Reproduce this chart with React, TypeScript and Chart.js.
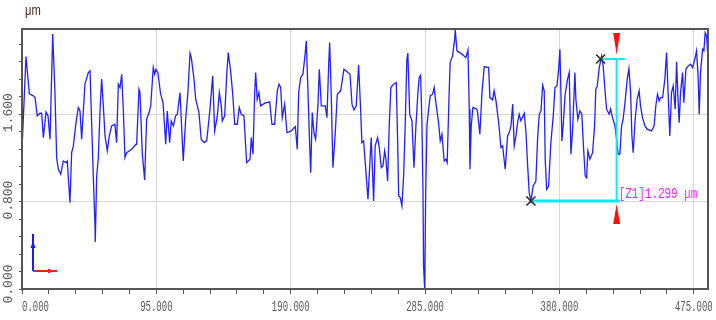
import React, { useEffect, useRef } from "react";
import { Chart, registerables } from "chart.js";

Chart.register(...registerables);

// Surface profile: [position (μm), height (μm)]
const profile: [number, number][] = [
  [0, 1.273], [2.8, 2.128], [5.2, 1.786], [8.0, 1.768], [9.2, 1.752], [10.8, 1.585], [12.7, 1.609], [13.9, 1.609],
  [15.1, 1.386], [17.0, 1.621], [18.4, 1.585], [19.8, 1.371], [21.7, 2.333], [23.3, 1.798], [24.5, 1.203], [25.7, 1.096],
  [27.4, 1.051], [29.2, 1.172], [31.1, 1.157], [32.0, 1.172], [33.9, 0.79], [35.1, 1.248], [36.3, 1.31], [38.2, 1.523],
  [39.8, 1.661], [41.0, 1.63], [42.2, 1.371], [43.3, 1.615], [44.5, 1.875], [46.9, 1.981], [48.1, 1.997], [49.3, 1.493],
  [50.4, 1.035], [51.6, 0.577], [51.8, 0.43], [52.8, 1.035], [53.9, 1.188], [55.1, 1.615], [56.3, 1.921], [57.5, 1.676],
  [58.7, 1.401], [60.3, 1.264], [61.7, 1.401], [63.4, 1.493], [65.7, 1.508], [66.9, 1.34], [68.1, 1.875], [69.3, 1.844],
  [70.5, 1.966], [71.6, 1.646], [72.8, 1.203], [74.0, 1.248], [77.5, 1.28], [80.6, 1.325], [81.1, 1.34], [82.7, 1.829],
  [83.4, 1.798], [85.0, 1.248], [86.7, 0.998], [88.1, 1.554], [89.8, 1.615], [91.0, 1.676], [92.8, 2.027], [93.8, 1.966],
  [94.7, 2.012], [96.1, 1.981], [98.0, 1.783], [99.7, 1.706], [101.6, 1.325], [102.7, 1.63], [104.4, 1.34], [105.5, 1.539],
  [107.0, 1.493], [108.6, 1.585], [109.8, 1.6], [111.7, 1.798], [114.0, 1.172], [115.7, 1.554], [117.3, 1.798], [118.8, 2.159],
  [119.7, 2.118], [121.6, 1.921], [122.8, 1.737], [125.1, 1.615], [126.7, 1.371], [128.7, 1.34], [130.6, 1.356], [132.9, 1.646],
  [134.8, 1.951], [136.2, 1.447], [138.1, 1.585], [139.5, 1.798], [140.9, 1.676], [141.6, 1.539], [143.3, 1.585], [144.7, 1.951],
  [145.8, 2.164], [147.5, 1.997], [148.9, 1.798], [150.4, 1.508], [152.2, 1.508], [153.6, 1.661], [155.0, 1.6], [156.9, 1.585],
  [158.8, 1.157], [161.2, 1.188], [162.1, 1.386], [163.3, 1.234], [164.5, 1.798], [165.2, 1.981], [166.3, 1.737], [167.5, 1.798],
  [168.7, 1.676], [171.6, 1.701], [175.1, 1.713], [176.7, 1.508], [178.6, 1.508], [180.5, 1.814], [181.7, 1.875], [182.9, 1.844],
  [184.0, 1.569], [185.7, 1.692], [187.3, 1.432], [190.4, 1.447], [193.2, 1.487], [194.6, 1.28], [195.6, 1.798], [197.0, 1.935],
  [198.6, 1.966], [199.8, 2.104], [201.0, 2.271], [202.2, 1.798], [203.4, 1.31], [204.1, 1.065], [205.2, 1.615], [206.4, 1.432],
  [207.6, 1.371], [209.2, 1.676], [210.2, 2.012], [211.6, 1.676], [214.4, 1.676], [215.6, 1.569], [216.8, 2.042], [217.5, 2.256],
  [218.6, 1.798], [219.8, 1.111], [221.5, 1.432], [222.9, 1.783], [225.3, 1.814], [227.6, 2.012], [230.4, 1.981], [231.9, 1.966],
  [233.3, 1.692], [234.7, 1.64], [236.3, 1.676], [238.0, 2.049], [239.4, 1.646], [240.3, 1.34], [241.5, 1.356], [243.2, 1.065],
  [244.6, 0.822], [246.9, 1.386], [248.6, 0.806], [249.7, 1.31], [251.4, 1.386], [252.6, 1.294], [254.0, 1.111], [255.2, 1.127],
  [256.4, 1.264], [257.3, 1.188], [258.5, 0.989], [259.6, 1.493], [260.8, 1.844], [262.7, 1.875], [264.6, 1.89], [265.6, 1.34],
  [266.3, 0.852], [267.4, 0.836], [268.6, 0.76], [269.8, 1.035], [270.9, 1.493], [272.1, 2.104], [272.8, 2.159], [274.1, 1.6],
  [275.7, 1.539], [277.1, 1.111], [278.5, 1.493], [279.9, 1.798], [280.8, 1.935], [281.8, 1.957], [282.7, 1.554], [283.5, 0.882],
  [283.9, 0.211], [284.7, 0.0], [285.4, 0.882], [286.3, 1.493], [287.5, 1.646], [288.6, 1.768], [290.3, 1.783], [291.4, 1.844],
  [292.6, 1.706], [294.5, 1.523], [295.7, 1.356], [296.9, 1.417], [298.5, 1.172], [299.7, 1.188], [300.6, 1.157], [302.0, 1.798],
  [302.7, 2.073], [304.4, 2.134], [305.9, 2.287], [306.3, 2.372], [307.5, 2.18], [311.0, 2.15], [313.8, 2.118], [315.3, 2.189],
  [316.2, 1.646], [316.7, 1.096], [317.6, 1.493], [318.8, 1.661], [321.6, 1.646], [322.1, 1.615], [323.7, 1.417], [325.2, 1.798],
  [326.8, 2.036], [329.9, 2.027], [330.8, 1.752], [332.7, 1.731], [333.8, 1.814], [335.1, 1.722], [337.0, 1.523], [338.6, 1.294],
  [339.8, 1.31], [341.6, 1.096], [343.3, 1.401], [344.5, 1.432], [345.7, 1.493], [346.9, 1.692], [348.0, 1.31], [349.2, 1.401],
  [350.4, 1.523], [351.5, 1.6], [352.7, 1.539], [355.1, 1.609], [356.3, 1.432], [357.5, 1.127], [358.6, 0.882], [359.8, 0.806],
  [361.4, 0.943], [363.3, 0.989], [364.5, 1.371], [365.7, 1.6], [366.9, 1.63], [368.1, 1.866], [369.2, 1.814], [369.9, 1.188],
  [370.9, 0.913], [372.3, 0.943], [373.9, 1.34], [375.6, 1.585], [376.8, 1.844], [378.2, 1.859], [379.4, 2.012], [380.3, 2.195],
  [381.0, 1.798], [381.7, 1.356], [382.6, 1.493], [384.0, 1.783], [385.7, 1.921], [386.9, 1.981], [388.1, 1.234], [389.3, 1.463],
  [390.0, 1.692], [390.9, 1.981], [391.6, 1.737], [393.0, 1.554], [394.4, 1.63], [395.8, 1.6], [396.8, 1.34], [398.2, 1.035],
  [399.2, 1.019], [400.1, 1.264], [401.5, 1.188], [403.4, 1.248], [404.8, 1.493], [405.7, 1.829], [406.7, 1.859], [408.1, 2.027],
  [409.8, 2.134], [410.9, 2.042], [412.1, 1.829], [413.3, 1.646], [415.1, 1.6], [416.1, 1.646], [417.5, 1.569], [419.2, 1.493],
  [420.4, 1.371], [421.5, 1.234], [422.7, 1.234], [423.9, 1.493], [425.0, 1.554], [426.2, 1.692], [427.9, 1.921], [429.1, 2.018],
  [430.3, 1.798], [431.2, 1.401], [432.1, 1.248], [433.5, 1.554], [434.9, 1.737], [436.3, 1.814], [437.3, 1.676], [438.7, 1.569],
  [440.4, 1.493], [442.0, 1.463], [445.1, 1.447], [446.9, 1.493], [448.1, 1.676], [449.3, 1.783], [450.5, 1.722], [451.5, 1.752],
  [452.9, 1.752], [454.5, 1.921], [455.7, 2.164], [456.8, 1.798], [458.0, 1.401], [459.2, 1.798], [460.4, 1.859], [461.8, 1.646],
  [462.8, 2.079], [463.9, 1.706], [464.6, 1.523], [465.6, 1.798], [467.0, 1.981], [467.9, 1.706], [469.4, 2.012], [471.0, 2.042],
  [472.7, 2.058], [474.1, 2.027], [475.7, 2.104], [476.9, 2.18], [478.0, 1.951], [478.8, 1.6], [479.7, 1.981], [481.2, 2.195],
  [482.1, 2.18], [483.0, 2.347], [484.0, 2.317], [484.9, 2.134],
];

const xMajorTicks = [0, 95, 190, 285, 380, 475];
const xTickLabels = ["0.000", "95.000", "190.000", "285.000", "380.000", "475.000"];
const yMajorTicks = [0, 0.8, 1.6];
const yTickLabels = ["0.000", "0.800", "1.600"];
const xMinorStep = 19;
const yMinorStep = 0.16;
const xRange = [0, 485];
const yRange = [0, 2.38];

const markerXs = [359.8, 409.1];
const markerYs = [0.806, 2.105];
const cursorX = 420.4;
const cursorLowerEnd = 422.7;
const cursorUpperEnd = 426.2;
const measureLabel = "[Z1]1.299 μm";
const unitLabel = "μm";

const isOn = (v: number | undefined, list: number[]) =>
  v !== undefined && list.some((t) => Math.abs(t - v) < 1e-6);

const overlayPlugin = {
  id: "profileOverlay",
  afterDraw(chart: any) {
    const { ctx, chartArea: ca, scales } = chart;
    const xs = scales.x;
    const ys = scales.y;
    ctx.save();

    // frame
    ctx.strokeStyle = "#555555";
    ctx.lineWidth = 2;
    ctx.strokeRect(ca.left, ca.top, ca.right - ca.left, ca.bottom - ca.top);

    // unit label
    ctx.fillStyle = "#4a2424";
    ctx.font = '14px "Liberation Sans"';
    ctx.textAlign = "left";
    ctx.textBaseline = "alphabetic";
    ctx.save();
    ctx.translate(ca.left + 3, 15);
    ctx.scale(0.8, 1);
    ctx.fillText(unitLabel, 0, 0);
    ctx.restore();

    // x tick labels
    ctx.fillStyle = "#5a5a5a";
    ctx.font = '15px "Liberation Mono"';
    xMajorTicks.forEach((v, i) => {
      const px = xs.getPixelForValue(v);
      ctx.save();
      ctx.translate(px, ca.bottom + 22);
      ctx.scale(0.6, 1);
      ctx.textAlign = i === 0 ? "left" : "center";
      ctx.fillText(xTickLabels[i], 0, 0);
      ctx.restore();
    });

    // y tick labels (rotated)
    ctx.font = '13px "Liberation Mono"';
    yMajorTicks.forEach((v, i) => {
      let py = ys.getPixelForValue(v) - 1.5;
      if (i === 0) py = ca.bottom - 5;
      ctx.save();
      ctx.translate(9, py);
      ctx.rotate(-Math.PI / 2);
      ctx.textAlign = "center";
      ctx.textBaseline = "middle";
      ctx.fillText(yTickLabels[i], 0, 0);
      ctx.restore();
    });

    const line = (x1: number, y1: number, x2: number, y2: number) => {
      ctx.beginPath();
      ctx.moveTo(x1, y1);
      ctx.lineTo(x2, y2);
      ctx.stroke();
    };
    const poly = (pts: number[][]) => {
      ctx.beginPath();
      pts.forEach(([x, y], i) => (i ? ctx.lineTo(x, y) : ctx.moveTo(x, y)));
      ctx.closePath();
      ctx.fill();
    };

    // measurement cursor
    const cx = xs.getPixelForValue(cursorX);
    const lowY = ys.getPixelForValue(markerYs[0]);
    const highY = ys.getPixelForValue(markerYs[1]);
    const m0x = xs.getPixelForValue(markerXs[0]);
    const m1x = xs.getPixelForValue(markerXs[1]);
    ctx.strokeStyle = "#16e6ee";
    ctx.lineWidth = 3;
    line(m0x, lowY, xs.getPixelForValue(cursorLowerEnd), lowY);
    ctx.lineWidth = 2;
    line(m1x, highY, xs.getPixelForValue(cursorUpperEnd), highY);
    line(cx, highY, cx, lowY);

    // red arrows
    ctx.fillStyle = "#ff1010";
    poly([
      [cx - 3.5, ca.top + 4],
      [cx + 3.5, ca.top + 4],
      [cx + 1, ca.top + 19],
      [cx, highY - 4],
      [cx - 1, ca.top + 19],
    ]);
    poly([
      [cx, lowY + 3],
      [cx + 1, lowY + 9],
      [cx + 3.5, lowY + 23],
      [cx - 3.5, lowY + 23],
      [cx - 1, lowY + 9],
    ]);

    // X markers
    ctx.strokeStyle = "#2a2a1a";
    ctx.lineWidth = 1.6;
    markerXs.forEach((mx, i) => {
      const px = xs.getPixelForValue(mx);
      const py = ys.getPixelForValue(markerYs[i]);
      const s = 4.5;
      line(px - s, py - s, px + s, py + s);
      line(px - s, py + s, px + s, py - s);
    });

    // measurement label
    ctx.fillStyle = "#ff22ff";
    ctx.font = '14px "Liberation Mono"';
    ctx.textAlign = "left";
    ctx.textBaseline = "alphabetic";
    ctx.save();
    ctx.translate(cx + 2, lowY - 3);
    ctx.scale(0.78, 1);
    ctx.fillText(measureLabel, 0, 0);
    ctx.restore();

    // axis indicator
    const ox = ca.left + 11;
    const oy = ca.bottom - 18;
    ctx.strokeStyle = "#1a1aff";
    ctx.fillStyle = "#1a1aff";
    ctx.lineWidth = 2;
    line(ox, oy, ox, oy - 37);
    poly([
      [ox - 2.5, oy - 23],
      [ox + 2.5, oy - 23],
      [ox, oy - 30],
    ]);
    ctx.strokeStyle = "#ff1a1a";
    ctx.fillStyle = "#ff1a1a";
    line(ox, oy, ox + 24, oy);
    poly([
      [ox + 15, oy - 2.5],
      [ox + 15, oy + 2.5],
      [ox + 21, oy],
    ]);

    ctx.restore();
  },
};

export default function App() {
  const ref = useRef<HTMLCanvasElement>(null);

  useEffect(() => {
    const canvas = ref.current;
    if (!canvas) return;
    const chart = new Chart(canvas, {
      type: "line",
      data: {
        datasets: [
          {
            data: profile.map(([x, y]) => ({ x, y })),
            borderColor: "#2020ff",
            borderWidth: 1.3,
            pointRadius: 0,
            tension: 0,
            fill: false,
          },
        ],
      },
      options: {
        animation: false,
        responsive: false,
        devicePixelRatio: 1,
        layout: { padding: { left: 19, top: 29, right: 8, bottom: 26 } },
        plugins: { legend: { display: false }, tooltip: { enabled: false } },
        scales: {
          x: {
            type: "linear",
            min: xRange[0],
            max: xRange[1],
            ticks: { display: false, stepSize: xMinorStep, includeBounds: false },
            grid: {
              color: (c: any) => (isOn(c.tick?.value, xMajorTicks) ? "#d8d8d8" : "rgba(0,0,0,0)"),
              tickColor: "#555555",
              tickLength: 5,
              lineWidth: 1,
            },
            border: { display: false },
          },
          y: {
            type: "linear",
            min: yRange[0],
            max: yRange[1],
            ticks: { display: false, stepSize: yMinorStep, includeBounds: false },
            grid: {
              color: (c: any) => (isOn(c.tick?.value, yMajorTicks) ? "#d8d8d8" : "rgba(0,0,0,0)"),
              tickColor: "#555555",
              tickLength: 3,
              lineWidth: 1,
            },
            border: { display: false },
          },
        },
      } as any,
      plugins: [overlayPlugin],
    });
    return () => chart.destroy();
  }, []);

  return (
    <div style={{ position: "fixed", left: 0, top: 0, width: 716, height: 320, background: "#ffffff" }}>
      <canvas ref={ref} width={716} height={320} style={{ display: "block" }} />
    </div>
  );
}
